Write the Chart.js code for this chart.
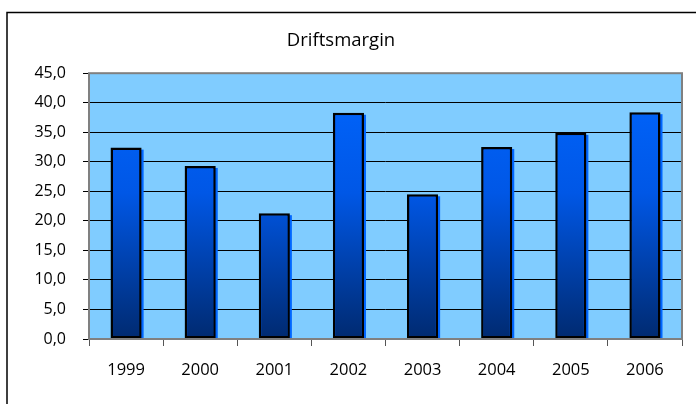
<!DOCTYPE html>
<html>
<head>
<meta charset="utf-8">
<script src="https://cdn.jsdelivr.net/npm/chart.js@4/dist/chart.umd.min.js"></script>
<style>
  html, body { margin: 0; padding: 0; background: #fff; }
  #wrap { width: 696px; height: 404px; }
</style>
</head>
<body>
<div id="wrap"><canvas id="myChart" width="696" height="404"></canvas></div>
<script>
const years = ['1999', '2000', '2001', '2002', '2003', '2004', '2005', '2006'];
const margin = [32.4, 29.3, 21.3, 38.3, 24.5, 32.5, 34.9, 38.4];
const yTicks = [0, 5, 10, 15, 20, 25, 30, 35, 40, 45];

// plot background, frame and outer border
const frame = {
  id: 'frame',
  beforeDraw(chart) {
    const { ctx, chartArea: a } = chart;
    ctx.save();
    ctx.strokeStyle = '#000';
    ctx.lineWidth = 1.5;
    ctx.strokeRect(7, 12.5, 700, 420);
    ctx.fillStyle = '#80CCFF';
    ctx.fillRect(a.left, a.top, a.right - a.left, a.bottom - a.top);
    ctx.restore();
  },
  beforeDatasetsDraw(chart) {
    // thin blue shadow right of each bar
    const { ctx } = chart;
    ctx.save();
    ctx.fillStyle = '#0066FF';
    chart.getDatasetMeta(0).data.forEach(b => {
      ctx.fillRect(b.x - b.width / 2 + 2, b.y + 2, b.width, b.base - b.y - 2);
    });
    ctx.restore();
  },
  afterDatasetsDraw(chart) {
    const { ctx, chartArea: a } = chart;
    ctx.save();
    ctx.strokeStyle = '#808080';
    ctx.lineWidth = 2;
    ctx.strokeRect(a.left, a.top, a.right - a.left, a.bottom - a.top);
    ctx.restore();
  }
};

function barGradient(context) {
  const a = context.chart.chartArea;
  if (!a) return '#0066FF';
  const g = context.chart.ctx.createLinearGradient(0, a.top, 0, a.bottom);
  g.addColorStop(0, '#0066FF');
  g.addColorStop(0.45, '#0057E6');
  g.addColorStop(1, '#002A70');
  return g;
}

new Chart(document.getElementById('myChart').getContext('2d'), {
  type: 'bar',
  data: {
    labels: years,
    datasets: [{
      label: 'Driftsmargin',
      data: margin,
      backgroundColor: barGradient,
      borderColor: '#000',
      borderWidth: 2.5,
      borderSkipped: false,
      barPercentage: 0.42,
      categoryPercentage: 1
    }]
  },
  options: {
    responsive: false,
    animation: false,
    layout: { padding: { top: 19, right: 14, bottom: 0, left: 0 } },
    plugins: {
      legend: { display: false },
      tooltip: { enabled: false },
      title: {
        display: true,
        text: 'Driftsmargin',
        color: '#000',
        font: { family: 'Open Sans', size: 18.5, weight: 'normal' },
        padding: { top: 11, bottom: 21 }
      }
    },
    scales: {
      x: {
        grid: { drawOnChartArea: false, drawTicks: true, tickLength: 7, color: '#555', offset: true },
        border: { display: false },
        ticks: { color: '#000', padding: 14, font: { family: 'Open Sans', size: 16.5 } },
        afterFit(scale) { scale.height = 65; }
      },
      y: {
        min: 0,
        max: 45,
        afterBuildTicks(scale) { scale.ticks = yTicks.map(v => ({ value: v })); },
        grid: { color: '#000', lineWidth: 1, tickLength: 6 },
        border: { display: false },
        ticks: {
          color: '#000',
          padding: 17,
          font: { family: 'Open Sans', size: 16 },
          callback: v => v.toFixed(1).replace('.', ',')
        },
        afterFit(scale) { scale.width = 89; }
      }
    }
  },
  plugins: [frame]
});
</script>
</body>
</html>
